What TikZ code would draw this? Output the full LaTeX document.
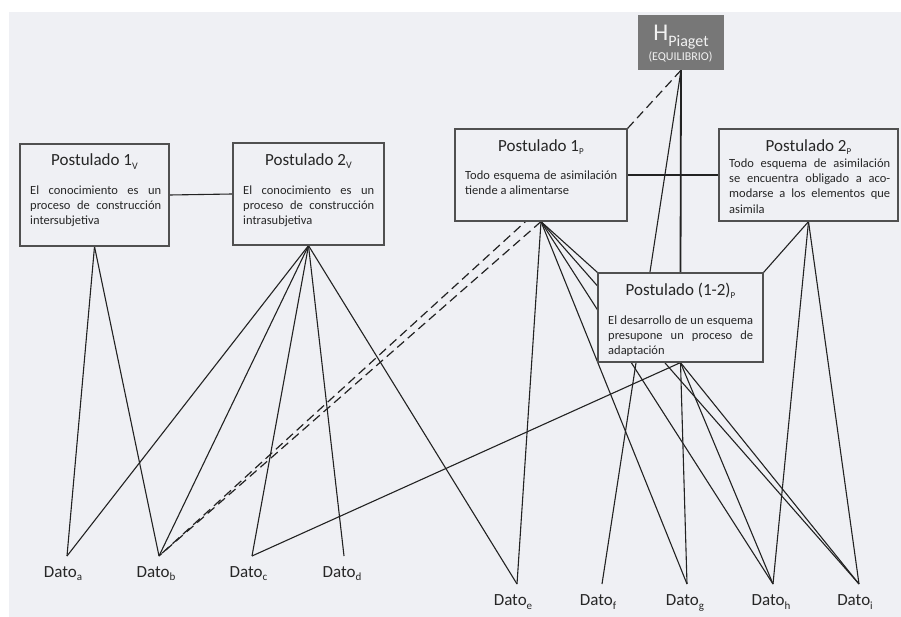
\documentclass[tikz,border=0pt]{standalone}
\usepackage{fontspec}
\setmainfont{Carlito}
\definecolor{paper}{RGB}{239,240,244}
\definecolor{ink}{RGB}{34,34,34}
\definecolor{frame}{RGB}{80,80,80}
\definecolor{txt}{RGB}{38,38,38}
\definecolor{hfill}{RGB}{119,119,119}
\definecolor{htxt}{RGB}{242,242,242}
\newcommand\lowsub[2][10]{\raisebox{-3.5pt}{\fontsize{#1}{#1}\selectfont #2}}
\newcommand\fullline[2]{\makebox[#1][s]{#2}}
\pgfdeclarelayer{back}
\pgfsetlayers{back,main}
\tikzset{
  box/.style={rectangle, draw=frame, line width=1.2pt, fill=paper, inner sep=0pt},
  hbox/.style={rectangle, fill=hfill, inner sep=0pt},
  link/.style={draw=ink, line width=1.1pt},
  heavylink/.style={draw=ink, line width=1.8pt},
  dlink/.style={link, line width=1.2pt, dash pattern=on 9pt off 5pt},
  ttl/.style={anchor=base, inner sep=0pt, text=txt, font=\fontsize{17}{20}\selectfont},
  body/.style={anchor=base west, inner sep=0pt, text=txt, font=\fontsize{12.5}{15}\selectfont},
  dato/.style={anchor=base, inner sep=0pt, text=txt, font=\fontsize{17}{20}\selectfont},
}
\begin{document}
\begin{tikzpicture}[x=1pt,y=-1pt]
\useasboundingbox (0,0) rectangle (901,617);
\begin{pgfonlayer}{back}
  \fill[white] (0,0) rectangle (901,617);
  \fill[paper] (9,12) rectangle (901,617);
\end{pgfonlayer}

% hypothesis box
\node[hbox, minimum width=86pt, minimum height=55pt] (h) at (681,42.5) {};
\node[anchor=base, inner sep=0pt, text=htxt, font=\fontsize{24}{24}\selectfont] (h-t) at (681,41)
  {H\raisebox{-6pt}{\fontsize{16}{16}\selectfont Piaget}};
\node[anchor=base, inner sep=0pt, text=htxt, font=\fontsize{12}{12}\selectfont] (h-s) at (680.5,61) {(EQUILIBRIO)};

% postulate boxes
\node[box, minimum width=149pt, minimum height=102pt] (p1v) at (94.5,195) {};
\node[box, minimum width=151pt, minimum height=102pt] (p2v) at (308.5,194) {};
\node[box, minimum width=172pt, minimum height=92pt] (p1p) at (541,175) {};
\node[box, minimum width=179pt, minimum height=92pt] (p2p) at (808.5,175) {};
\node[box, minimum width=165pt, minimum height=89pt] (p12) at (680.5,317.5) {};

% texts of Postulado 1_V
\node[ttl] (p1v-t) at (94.5,166) {Postulado 1\lowsub{V}};
\node[body] (p1v-a) at (30,195) {\fullline{131pt}{El conocimiento es un}};
\node[body] (p1v-b) at (30,210) {\fullline{131pt}{proceso de construcción}};
\node[body] (p1v-c) at (30,225) {intersubjetiva};

% texts of Postulado 2_V
\node[ttl] (p2v-t) at (308.5,165.5) {Postulado 2\lowsub{V}};
\node[body] (p2v-a) at (243,194.5) {\fullline{131pt}{El conocimiento es un}};
\node[body] (p2v-b) at (243,209.5) {\fullline{131pt}{proceso de construcción}};
\node[body] (p2v-c) at (243,224.5) {intrasubjetiva};

% texts of Postulado 1_P
\node[ttl] (p1p-t) at (541,151.5) {Postulado 1\lowsub[9]{P}};
\node[body] (p1p-a) at (465,180) {\fullline{152pt}{Todo esquema de asimilación}};
\node[body] (p1p-b) at (465,195) {tiende a alimentarse};

% texts of Postulado 2_P
\node[ttl] (p2p-t) at (808.5,151.5) {Postulado 2\lowsub[9]{P}};
\node[body] (p2p-a) at (729,167.5) {\fullline{161pt}{Todo esquema de asimilación}};
\node[body] (p2p-b) at (729,182.7) {\fullline{161pt}{se encuentra obligado a aco-}};
\node[body] (p2p-c) at (729,197.9) {\fullline{161pt}{modarse a los elementos que}};
\node[body] (p2p-d) at (729,213.1) {asimila};

% texts of Postulado (1-2)_P
\node[ttl] (p12-t) at (680.5,295) {Postulado (1-2)\lowsub[9]{P}};
\node[body] (p12-a) at (608,324.5) {\fullline{145pt}{El desarrollo de un esquema}};
\node[body] (p12-b) at (608,339.3) {\fullline{145pt}{presupone un proceso de}};
\node[body] (p12-c) at (608,354) {adaptación};

% data points and their labels
\coordinate (da) at (67,556);
\coordinate (db) at (159,556);
\coordinate (dc) at (252,556);
\coordinate (dd) at (344,556);
\coordinate (de) at (517,584);
\coordinate (df) at (602,584);
\coordinate (dg) at (687,584);
\coordinate (dh) at (773,584);
\coordinate (di) at (859,584);
\node[dato] (la) at (63,577) {Dato\lowsub[11]{a}};
\node[dato] (lb) at (156,577) {Dato\lowsub[11]{b}};
\node[dato] (lc) at (248.5,577) {Dato\lowsub[11]{c}};
\node[dato] (ld) at (342,577) {Dato\lowsub[11]{d}};
\node[dato] (le) at (513,605.5) {Dato\lowsub[11]{e}};
\node[dato] (lf) at (598,605.5) {Dato\lowsub[11]{f}};
\node[dato] (lg) at (685,605.5) {Dato\lowsub[11]{g}};
\node[dato] (lh) at (771,605.5) {Dato\lowsub[11]{h}};
\node[dato] (li) at (855,605.5) {Dato\lowsub[11]{i}};

% connectors, kept behind the boxes
\begin{pgfonlayer}{back}
  \draw[link] (p1v.east) -- (p2v.west);
  \draw[link] (p1p.east) -- (p2p.west);
  \draw[link] (p1v.south) -- (da);
  \draw[link] (p1v.south) -- (db);
  \draw[link] (p2v.south) -- (da);
  \draw[link] (p2v.south) -- (db);
  \draw[link] (p2v.south) -- (dc);
  \draw[link] (p2v.south) -- (dd);
  \draw[link] (p2v.south) -- (de);
  \draw[link] (p1p.south) -- (de);
  \draw[link] (p1p.south) -- (dg);
  \draw[link] (p1p.south) -- (dh);
  \draw[link] (p1p.south) -- (di);
  \draw[link] (p1p.south) -- (p12.north west);
  \draw[dlink] (p1p.south) -- (db);
  \draw[dlink] (h.south) -- (p1p.north east) -- (db);
  \draw[heavylink] (h.south) -- (p12.north);
  \draw[link] (h.south) -- (df);
  \draw[link] (p2p.south) -- (p12.north east);
  \draw[link] (p2p.south) -- (dh);
  \draw[link] (p2p.south) -- (di);
  \draw[link] (p12.south) -- (dc);
  \draw[link] (p12.south) -- (dg);
  \draw[link] (p12.south) -- (dh);
  \draw[link] (p12.south) -- (di);
\end{pgfonlayer}
\end{tikzpicture}
\end{document}
